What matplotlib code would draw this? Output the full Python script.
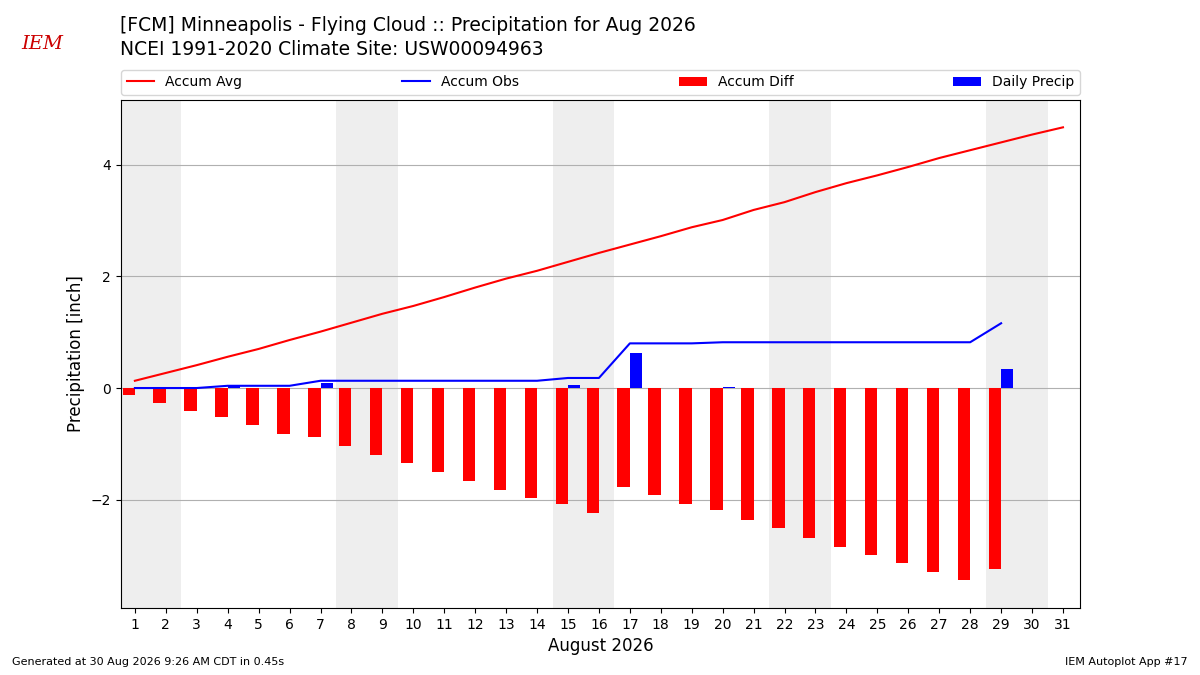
import matplotlib
matplotlib.use("Agg")
import matplotlib.pyplot as plt
import numpy as np

days = list(range(1, 32))
accum_avg = [0.13, 0.27, 0.41, 0.56, 0.70, 0.86, 1.01, 1.17, 1.33, 1.47,
             1.63, 1.80, 1.96, 2.10, 2.26, 2.42, 2.57, 2.72, 2.88, 3.01,
             3.19, 3.33, 3.51, 3.67, 3.81, 3.96, 4.12, 4.26, 4.40, 4.54, 4.67]
obs_days = list(range(1, 30))
daily_precip = [0, 0, 0, 0.04, 0, 0, 0.09, 0, 0, 0,
                0, 0, 0, 0, 0.05, 0, 0.62, 0, 0, 0.02,
                0, 0, 0, 0, 0, 0, 0, 0, 0.34]
weekend_starts = [1, 8, 15, 22, 29]

accum_obs = np.cumsum(daily_precip)
accum_diff = accum_obs - np.array(accum_avg[:len(obs_days)])

fig = plt.figure(figsize=(12, 6.75), dpi=100)
ax = fig.add_axes([0.1008, 0.0993, 0.7992, 0.7526])

for s in weekend_starts:
    ax.axvspan(s - 0.5, s + 1.5, color="#eeeeee", zorder=0, lw=0)

ax.plot(days, accum_avg, color="red", lw=1.5, label="Accum Avg", zorder=3)
ax.plot(obs_days, accum_obs, color="blue", lw=1.5, label="Accum Obs", zorder=3)
ax.bar(obs_days, accum_diff, width=-0.4, align="edge", color="red",
       label="Accum Diff", zorder=2)
ax.bar(obs_days, daily_precip, width=0.4, align="edge", color="blue",
       label="Daily Precip", zorder=2)

ax.set_xlim(0.55, 31.55)
ax.set_ylim(-3.94, 5.16)
ax.set_xticks(days)
ax.set_yticks([-2, 0, 2, 4])
ax.grid(axis="y", color="#b0b0b0", lw=0.8, zorder=1)
ax.set_axisbelow(True)
ax.tick_params(labelsize=10)
ax.set_ylabel("Precipitation [inch]", fontsize=12)
ax.set_xlabel("August 2026", fontsize=12)

ax.legend(loc="lower left", bbox_to_anchor=(0, 1.01, 1, 0.05), ncol=4,
          mode="expand", borderaxespad=0, fontsize=10)

fig.text(0.1, 0.962, "[FCM] Minneapolis - Flying Cloud :: Precipitation for Aug 2026",
         fontsize=13.5, va="center")
fig.text(0.1, 0.927, "NCEI 1991-2020 Climate Site: USW00094963",
         fontsize=13.5, va="center")
fig.text(0.018, 0.935, "IEM", fontsize=14, color="#cc0000", family="serif",
         style="italic", va="center")
fig.text(0.01, 0.015, "Generated at 30 Aug 2026 9:26 AM CDT in 0.45s", fontsize=8)
fig.text(0.99, 0.015, "IEM Autoplot App #17", fontsize=8, ha="right")

fig.savefig("out.png", dpi=100)
